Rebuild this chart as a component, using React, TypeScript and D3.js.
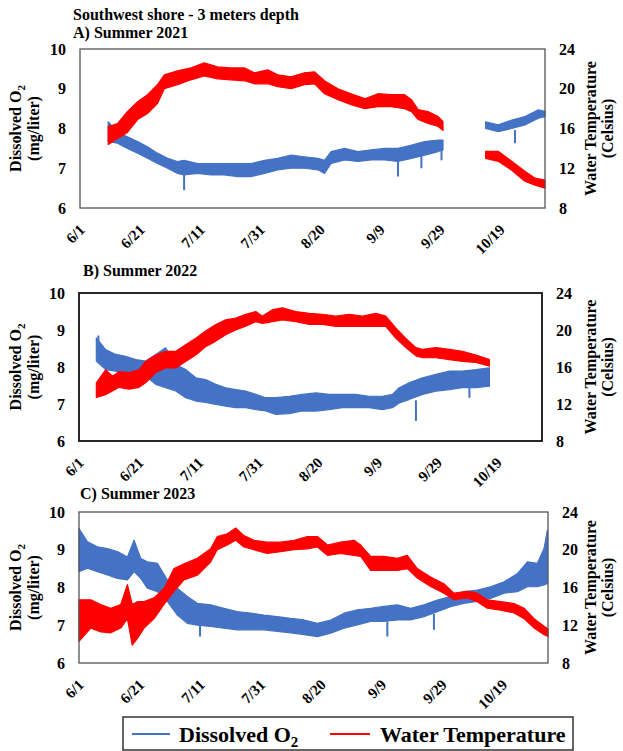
import React from "react";
import * as d3 from "d3";

// Each row: [days after June 1, low, high] of the logged band
type Row = [number, number, number];

const xTickLabels = ["6/1", "6/21", "7/11", "7/31", "8/20", "9/9", "9/29", "10/19"];
const doTicks = [6, 7, 8, 9, 10];
const tempTicks = [8, 12, 16, 20, 24];

// ---- Summer 2021 ----
const do2021: Row[][] = [
  [
    [9.4, 7.67, 8.17], [12.5, 7.63, 7.9], [15.8, 7.5, 7.79], [19.2, 7.38, 7.67],
    [22.5, 7.25, 7.54], [25.8, 7.12, 7.38], [29.2, 7.0, 7.25], [32.5, 6.87, 7.17],
    [34.7, 6.83, 7.2], [39.2, 6.87, 7.12], [43.6, 6.83, 7.12], [48.1, 6.83, 7.12],
    [52.6, 6.79, 7.12], [57.0, 6.79, 7.12], [61.5, 6.87, 7.2], [65.9, 6.96, 7.25],
    [70.4, 7.0, 7.33], [74.8, 7.0, 7.29], [79.3, 6.96, 7.25], [81.5, 6.87, 7.2],
    [83.7, 7.12, 7.42], [88.2, 7.21, 7.5], [92.6, 7.17, 7.42], [97.1, 7.21, 7.46],
    [101.5, 7.21, 7.5], [106.0, 7.17, 7.5], [110.5, 7.25, 7.58], [114.9, 7.33, 7.67],
    [119.4, 7.42, 7.71], [121.0, 7.46, 7.71],
  ],
  [
    [135.2, 8.0, 8.17], [139.4, 7.92, 8.09], [143.9, 8.0, 8.21], [148.3, 8.09, 8.3],
    [152.8, 8.26, 8.47], [155.0, 8.3, 8.43],
  ],
];
const temp2021: Row[][] = [
  [
    [9.4, 14.4, 16.2], [12.5, 15.0, 16.5], [15.8, 15.6, 17.7], [19.2, 16.9, 18.7],
    [22.5, 17.5, 19.4], [25.8, 18.5, 20.4], [28.1, 20.0, 21.4], [32.5, 20.4, 21.8],
    [37.0, 20.9, 22.1], [41.4, 21.3, 22.6], [45.9, 21.0, 22.2], [50.3, 20.9, 22.1],
    [54.8, 20.8, 22.1], [58.1, 20.5, 21.6], [62.6, 20.5, 21.9], [65.9, 20.2, 21.4],
    [70.4, 20.0, 21.2], [74.8, 20.4, 21.6], [78.2, 20.5, 21.7], [81.5, 19.5, 20.8],
    [86.0, 18.9, 20.0], [90.4, 18.4, 19.5], [94.9, 18.0, 19.0], [99.3, 18.2, 19.5],
    [103.8, 18.2, 19.4], [108.2, 18.0, 19.4], [110.5, 17.7, 18.9], [112.7, 16.9, 17.9],
    [116.0, 16.5, 17.7], [119.4, 16.2, 17.2], [121.0, 15.8, 16.7],
  ],
  [
    [135.2, 13.0, 13.7], [139.4, 12.7, 13.7], [143.9, 11.8, 12.7], [148.3, 10.7, 11.7],
    [151.7, 10.3, 11.0], [155.0, 10.0, 10.8],
  ],
];
const doDips2021: Row[] = [
  [34.7, 6.45, 6.85], [106.0, 6.79, 7.17], [113.8, 7.0, 7.33], [120.5, 7.2, 7.45], [145.0, 7.63, 7.96],
];

// ---- Summer 2022 ----
const do2022: Row[][] = [
  [
    [5.8, 8.16, 8.79], [8.9, 7.93, 8.47], [12.3, 7.89, 8.34], [15.6, 7.8, 8.29],
    [19.0, 7.75, 8.2], [22.3, 7.75, 8.16], [25.7, 7.53, 8.34], [29.0, 7.44, 8.52],
    [32.4, 7.35, 8.07], [35.7, 7.17, 7.93], [39.1, 7.08, 7.71], [42.4, 7.04, 7.66],
    [45.8, 6.99, 7.53], [49.1, 6.94, 7.44], [52.5, 6.9, 7.39], [55.8, 6.9, 7.35],
    [59.2, 6.85, 7.26], [62.5, 6.81, 7.17], [65.9, 6.72, 7.17], [70.4, 6.74, 7.21],
    [74.8, 6.81, 7.26], [79.3, 6.81, 7.3], [83.7, 6.85, 7.26], [88.2, 6.9, 7.26],
    [92.6, 6.9, 7.26], [97.1, 6.9, 7.21], [101.6, 6.85, 7.21], [104.9, 6.9, 7.26],
    [107.2, 7.03, 7.44], [110.5, 7.12, 7.57], [115.0, 7.26, 7.71], [119.5, 7.35, 7.8],
    [124.0, 7.39, 7.89], [128.4, 7.44, 7.89], [132.9, 7.44, 7.93], [137.4, 7.48, 7.98],
  ],
];
const temp2022: Row[][] = [
  [
    [5.8, 12.7, 14.3], [8.9, 13.0, 15.7], [11.2, 13.4, 15.0], [13.4, 13.8, 15.5],
    [16.8, 13.6, 15.4], [20.1, 13.8, 15.7], [22.3, 14.3, 16.6], [25.7, 15.4, 17.3],
    [29.0, 15.9, 17.7], [32.4, 15.9, 17.7], [35.7, 16.6, 18.4], [39.1, 17.3, 19.1],
    [42.4, 18.2, 19.9], [45.8, 18.8, 20.6], [49.1, 19.5, 21.1], [52.5, 20.0, 21.3],
    [55.8, 20.4, 21.7], [59.2, 20.9, 22.0], [61.4, 20.7, 21.5], [64.8, 20.9, 22.2],
    [68.1, 21.1, 22.4], [72.6, 20.9, 22.0], [77.1, 20.6, 21.8], [81.5, 20.6, 21.7],
    [86.0, 20.4, 21.5], [90.5, 20.4, 21.7], [94.9, 20.4, 21.5], [99.4, 20.4, 21.8],
    [102.7, 20.4, 21.5], [106.1, 19.1, 20.2], [109.4, 18.1, 19.1], [112.8, 17.2, 18.1],
    [115.0, 17.0, 17.9], [119.5, 17.0, 18.1], [124.0, 16.8, 17.9], [128.4, 16.6, 17.7],
    [132.9, 16.5, 17.3], [137.4, 16.1, 16.8],
  ],
];
const doDips2022: Row[] = [[6.5, 8.5, 8.85], [112.8, 6.54, 7.1], [130.7, 7.17, 7.45]];

// ---- Summer 2023 ----
const do2023: Row[][] = [
  [
    [0.0, 8.42, 9.56], [2.8, 8.51, 9.21], [6.1, 8.42, 9.08], [9.4, 8.33, 9.03],
    [12.7, 8.24, 8.95], [16.0, 8.2, 8.81], [18.2, 8.42, 9.25], [20.4, 8.24, 8.77],
    [22.6, 7.98, 8.68], [25.9, 7.89, 8.64], [29.2, 7.63, 8.2], [32.5, 7.27, 7.98],
    [35.8, 7.05, 7.76], [39.1, 7.0, 7.58], [43.5, 6.97, 7.54], [47.9, 6.92, 7.45],
    [52.3, 6.88, 7.36], [56.7, 6.88, 7.32], [61.1, 6.88, 7.27], [65.5, 6.84, 7.23],
    [70.0, 6.8, 7.18], [74.4, 6.75, 7.14], [78.8, 6.7, 7.05], [83.2, 6.79, 7.14],
    [87.6, 6.92, 7.32], [92.0, 7.01, 7.41], [96.4, 7.1, 7.45], [100.8, 7.1, 7.5],
    [105.2, 7.14, 7.54], [109.6, 7.14, 7.45], [114.0, 7.23, 7.54], [118.4, 7.36, 7.67],
    [122.8, 7.49, 7.76], [127.2, 7.58, 7.89], [131.6, 7.63, 7.93], [136.0, 7.71, 8.02],
    [140.5, 7.85, 8.15], [144.9, 7.89, 8.37], [148.2, 8.02, 8.68], [151.5, 8.02, 8.64],
    [153.7, 8.07, 9.03], [154.8, 8.11, 9.52],
  ],
];
const temp2023: Row[][] = [
  [
    [0.0, 10.3, 14.7], [3.9, 11.7, 14.7], [7.2, 11.3, 14.2], [10.5, 11.2, 13.8],
    [13.8, 11.7, 14.2], [16.0, 12.7, 16.3], [17.6, 9.9, 14.2], [19.3, 10.6, 14.5],
    [21.5, 11.7, 14.5], [24.8, 12.7, 14.9], [28.1, 14.2, 15.9], [31.4, 15.6, 18.0],
    [34.7, 16.8, 18.5], [39.1, 17.3, 19.1], [43.5, 18.7, 20.1], [45.7, 20.0, 21.4],
    [49.0, 20.5, 21.7], [51.8, 21.0, 22.3], [54.5, 20.3, 21.5], [57.8, 20.0, 21.0],
    [62.2, 19.6, 20.8], [66.6, 19.8, 20.8], [71.1, 20.0, 21.0], [75.5, 20.1, 21.4],
    [78.8, 20.3, 21.4], [82.1, 19.4, 20.5], [86.5, 19.6, 20.8], [90.9, 19.4, 21.0],
    [93.1, 19.3, 20.5], [96.4, 17.8, 19.3], [100.8, 17.8, 19.3], [105.2, 17.8, 19.1],
    [108.5, 18.0, 19.4], [111.8, 17.0, 18.0], [116.2, 16.1, 17.1], [120.6, 15.4, 16.4],
    [123.9, 14.7, 15.4], [128.3, 14.9, 15.6], [131.6, 14.5, 15.4], [134.9, 13.8, 14.7],
    [139.4, 13.6, 14.5], [143.8, 13.3, 14.3], [147.1, 12.7, 13.8], [150.4, 11.7, 12.7],
    [153.7, 11.0, 11.9], [155.0, 10.8, 11.6],
  ],
];
const doDips2023: Row[] = [[40.0, 6.7, 7.0], [101.9, 6.7, 7.1], [117.3, 6.88, 7.3]];

const BLUE = "#4472C4";
const RED = "#FF0000";
const FONT = "Liberation Serif";

const season0 = new Date(2021, 5, 1);
const season1 = new Date(2021, 10, 3);
const dayToDate = (d: number) => new Date(season0.getTime() + d * 864e5);
const labelToDate = (s: string) => {
  const [m, d] = s.split("/").map(Number);
  return new Date(2021, m - 1, d);
};

interface PanelSpec {
  title: string;
  titleX: number;
  titleY: number;
  left: number;
  right: number;
  top: number;
  bottom: number;
  frame: string;
  frameW: number;
  doBands: Row[][];
  tempBands: Row[][];
  dips: Row[];
}

const panels: PanelSpec[] = [
  { title: "A) Summer 2021", titleX: 73, titleY: 38, left: 80, right: 545, top: 49, bottom: 208, frame: "#555", frameW: 1.3, doBands: do2021, tempBands: temp2021, dips: doDips2021 },
  { title: "B) Summer 2022", titleX: 83, titleY: 276, left: 79, right: 542, top: 293, bottom: 441, frame: "#111", frameW: 1.8, doBands: do2022, tempBands: temp2022, dips: doDips2022 },
  { title: "C) Summer 2023", titleX: 80, titleY: 499, left: 79, right: 548, top: 512, bottom: 663, frame: "#555", frameW: 1.3, doBands: do2023, tempBands: temp2023, dips: doDips2023 },
];

function Panel({ p }: { p: PanelSpec }) {
  const x = d3.scaleTime().domain([season0, season1]).range([p.left, p.right]);
  const yDO = d3.scaleLinear().domain([6, 10]).range([p.bottom, p.top]);
  const yT = d3.scaleLinear().domain([8, 24]).range([p.bottom, p.top]);
  const band = (y: d3.ScaleLinear<number, number>) =>
    d3
      .area<Row>()
      .x((r) => x(dayToDate(r[0])))
      .y0((r) => y(r[1]))
      .y1((r) => y(r[2]));
  const doArea = band(yDO);
  const tArea = band(yT);
  const midY = (p.top + p.bottom) / 2;

  return (
    <g fontFamily={FONT} fontWeight="bold">
      <text x={p.titleX} y={p.titleY} fontSize={16}>
        {p.title}
      </text>
      <rect x={p.left} y={p.top} width={p.right - p.left} height={p.bottom - p.top} fill="white" />
      {p.doBands.map((seg, i) => (
        <path key={"d" + i} d={doArea(seg) || ""} fill={BLUE} stroke={BLUE} strokeWidth={1.2} strokeLinejoin="round" />
      ))}
      {p.dips.map((r, i) => (
        <line key={"s" + i} x1={x(dayToDate(r[0]))} x2={x(dayToDate(r[0]))} y1={yDO(r[1])} y2={yDO(r[2])} stroke={BLUE} strokeWidth={2} />
      ))}
      {p.tempBands.map((seg, i) => (
        <path key={"t" + i} d={tArea(seg) || ""} fill={RED} stroke={RED} strokeWidth={1.2} strokeLinejoin="round" />
      ))}
      <rect x={p.left} y={p.top} width={p.right - p.left} height={p.bottom - p.top} fill="none" stroke={p.frame} strokeWidth={p.frameW} />
      {doTicks.map((v) => (
        <text key={"l" + v} x={p.left - 14} y={yDO(v)} dy="0.35em" textAnchor="end" fontSize={16}>
          {v}
        </text>
      ))}
      {tempTicks.map((v) => (
        <text key={"r" + v} x={p.right + 14} y={yT(v)} dy="0.35em" textAnchor="start" fontSize={16}>
          {v}
        </text>
      ))}
      {xTickLabels.map((s) => {
        const tx = x(labelToDate(s));
        return (
          <text
            key={s}
            transform={`translate(${tx + 2},${p.bottom + 19}) rotate(-45)`}
            textAnchor="end"
            dy="0.35em"
            fontSize={15}
          >
            {s}
          </text>
        );
      })}
      <g transform={`translate(21,${midY}) rotate(-90)`} fontSize={16}>
        <text textAnchor="middle">
          Dissolved O<tspan fontSize={11} dy="4">2</tspan>
        </text>
        <text textAnchor="middle" y={18}>
          (mg/liter)
        </text>
      </g>
      <g transform={`translate(596,${midY}) rotate(-90)`} fontSize={16}>
        <text textAnchor="middle">Water Temperature</text>
        <text textAnchor="middle" y={17}>
          (Celsius)
        </text>
      </g>
    </g>
  );
}

export default function App() {
  return (
    <svg width={623} height={751} style={{ position: "absolute", left: 0, top: 0, background: "white" }}>
      <rect width={623} height={751} fill="white" />
      <text x={73} y={20} fontSize={16} fontFamily={FONT} fontWeight="bold">
        Southwest shore - 3 meters depth
      </text>
      {panels.map((p) => (
        <Panel key={p.title} p={p} />
      ))}
      <g fontFamily={FONT} fontWeight="bold">
        <rect x={123} y={717} width={450} height={33} fill="white" stroke="#333" strokeWidth={1.5} />
        <line x1={132} x2={170} y1={734} y2={734} stroke={BLUE} strokeWidth={2.2} />
        <text x={179} y={742} fontSize={22}>
          Dissolved O<tspan fontSize={15} dy="5">2</tspan>
        </text>
        <line x1={330} x2={370} y1={734} y2={734} stroke={RED} strokeWidth={2.2} />
        <text x={380} y={742} fontSize={22}>
          Water Temperature
        </text>
      </g>
    </svg>
  );
}
